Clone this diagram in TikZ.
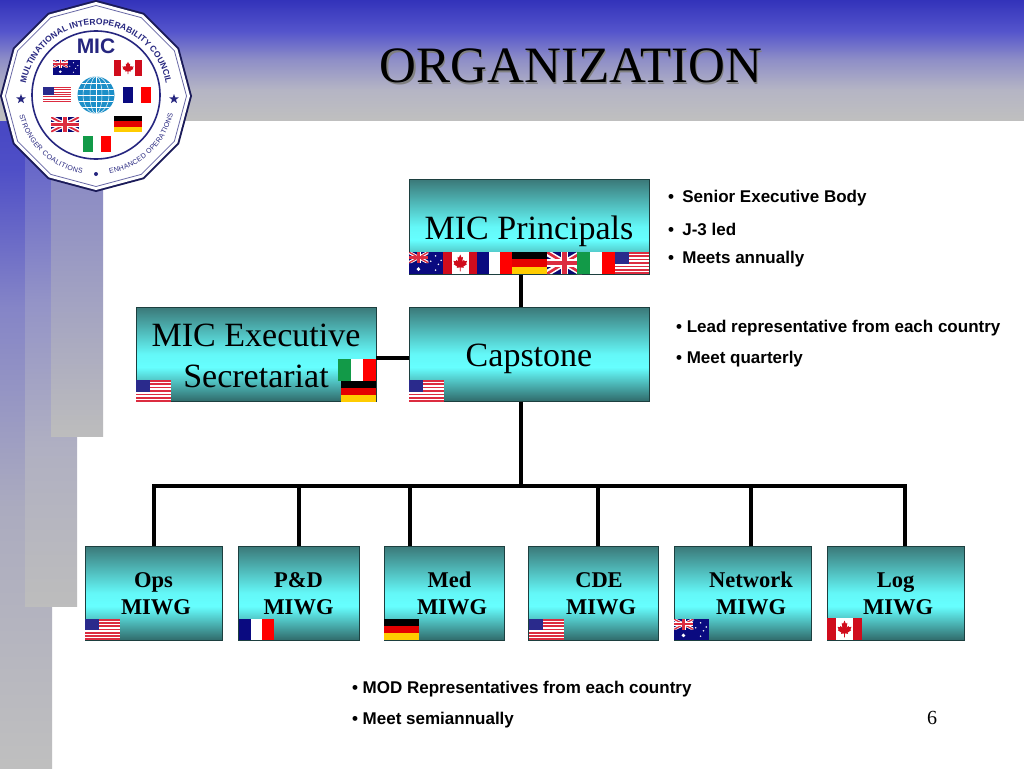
\documentclass[tikz,border=0pt]{standalone}
\usepackage{fontspec}
\setmainfont{Liberation Serif}
\setsansfont{Liberation Sans}
\usetikzlibrary{decorations.text,shapes.geometric}
\definecolor{navy}{HTML}{26267F}
\definecolor{boxedge}{HTML}{1C3F3F}
\definecolor{flagred}{HTML}{DC2C40}
\definecolor{flagblue}{HTML}{2A2A8C}
\definecolor{frblue}{HTML}{0A0A80}
\definecolor{itgreen}{HTML}{129A48}
\definecolor{degold}{HTML}{FFCC00}
\definecolor{cared}{HTML}{D00C1C}
\definecolor{globe}{HTML}{1C8FC8}
\pgfdeclareverticalshading{boxshade}{100bp}{
  rgb(0bp)=(.19,.42,.42);
  rgb(25bp)=(.19,.42,.42);
  rgb(43bp)=(.40,1,1);
  rgb(50bp)=(.39,.97,.97);
  rgb(75bp)=(.23,.47,.47);
  rgb(100bp)=(.23,.47,.47)}
\pgfdeclareverticalshading{topband}{100bp}{
  rgb(0bp)=(.75,.75,.75);
  rgb(25bp)=(.75,.75,.75);
  rgb(37.5bp)=(.71,.71,.77);
  rgb(50bp)=(.56,.56,.78);
  rgb(62bp)=(.33,.33,.80);
  rgb(75bp)=(.20,.20,.73);
  rgb(100bp)=(.20,.20,.73)}
\pgfdeclareverticalshading{bandone}{100bp}{
  rgb(0bp)=(.75,.75,.75);
  rgb(25bp)=(.75,.75,.75);
  rgb(42bp)=(.67,.67,.75);
  rgb(55bp)=(.52,.52,.78);
  rgb(64bp)=(.31,.31,.78);
  rgb(75bp)=(.20,.20,.73);
  rgb(100bp)=(.20,.20,.73)}
\pgfdeclareverticalshading{bandtwo}{100bp}{
  rgb(0bp)=(.74,.74,.74);
  rgb(25bp)=(.74,.74,.74);
  rgb(38bp)=(.69,.69,.76);
  rgb(50bp)=(.58,.58,.78);
  rgb(61bp)=(.41,.41,.79);
  rgb(75bp)=(.20,.20,.73);
  rgb(100bp)=(.20,.20,.73)}
\pgfdeclareverticalshading{bandthree}{100bp}{
  rgb(0bp)=(.74,.74,.74);
  rgb(25bp)=(.74,.74,.74);
  rgb(40bp)=(.64,.64,.76);
  rgb(55bp)=(.54,.54,.77);
  rgb(75bp)=(.25,.25,.74);
  rgb(100bp)=(.25,.25,.74)}
\tikzset{
  mbox/.style={draw=boxedge,line width=1pt,shading=boxshade,rectangle,inner sep=0pt,align=center,text=black},
  bigbox/.style={mbox,font=\fontsize{34}{41}\selectfont},
  miwg/.style={mbox,font=\fontsize{22.5}{27}\selectfont\bfseries,minimum height=94pt,text=black},
  link/.style={draw=black,line width=4pt},
  note/.style={anchor=west,inner sep=0pt,font=\sffamily\bfseries\fontsize{17}{17}\selectfont},
  arctext/.style={decorate},
}
% flag bodies drawn in a unit square, y downward
\newcommand{\ukbody}{
  \fill[frblue!90!black] (0,0) rectangle (1,1);
  \fill[white] (0,0)--(.14,0)--(1,.8)--(1,1)--(.86,1)--(0,.2)--cycle;
  \fill[white] (1,0)--(.86,0)--(0,.8)--(0,1)--(.14,1)--(1,.2)--cycle;
  \fill[flagred] (0,0)--(.06,0)--(1,.92)--(1,1)--(.94,1)--(0,.08)--cycle;
  \fill[flagred] (1,0)--(.94,0)--(0,.92)--(0,1)--(.06,1)--(1,.08)--cycle;
  \fill[white] (.39,0) rectangle (.61,1);
  \fill[white] (0,.32) rectangle (1,.68);
  \fill[flagred] (.44,0) rectangle (.56,1);
  \fill[flagred] (0,.40) rectangle (1,.60);
}
\newcommand{\flagUK}{\ukbody}
\newcommand{\flagAU}{
  \fill[frblue] (0,0) rectangle (1,1);
  \begin{scope}[xscale=.55,yscale=.5]\ukbody\end{scope}
  \fill[white] (.27,.78) ellipse [x radius=.055,y radius=.09];
  \foreach \sx/\sy in {.76/.18,.76/.82,.62/.42,.92/.38,.84/.56}{
    \fill[white] (\sx,\sy) ellipse [x radius=.025,y radius=.04];}
}
\newcommand{\flagCA}{
  \fill[white] (0,0) rectangle (1,1);
  \fill[cared] (0,0) rectangle (.25,1);
  \fill[cared] (.75,0) rectangle (1,1);
  \fill[cared] (.5,.12)--(.54,.26)--(.58,.22)--(.56,.44)--(.61,.36)--(.63,.42)--(.70,.40)--(.67,.52)--(.69,.56)--(.59,.66)--(.60,.72)--(.51,.70)--(.51,.88)--(.49,.88)--(.49,.70)--(.40,.72)--(.41,.66)--(.31,.56)--(.33,.52)--(.30,.40)--(.37,.42)--(.39,.36)--(.44,.44)--(.42,.22)--(.46,.26)--cycle;
}
\newcommand{\flagFR}{
  \fill[white] (0,0) rectangle (1,1);
  \fill[frblue] (0,0) rectangle (.34,1);
  \fill[red] (.66,0) rectangle (1,1);
}
\newcommand{\flagIT}{
  \fill[white] (0,0) rectangle (1,1);
  \fill[itgreen] (0,0) rectangle (.34,1);
  \fill[red] (.66,0) rectangle (1,1);
}
\newcommand{\flagDE}{
  \fill[black] (0,0) rectangle (1,.34);
  \fill[red!90!black] (0,.33) rectangle (1,.67);
  \fill[degold] (0,.66) rectangle (1,1);
}
\newcommand{\flagUS}{
  \fill[white] (0,0) rectangle (1,1);
  \foreach \k in {0,2,...,12}{\fill[flagred] (0,\k/13) rectangle (1,\k/13+1/13);}
  \fill[flagblue] (0,0) rectangle (.4,.54);
}
\newcommand{\putflag}[5]{\begin{scope}[shift={(#2,#3)},x=#4pt,y=-#5pt]\csname flag#1\endcsname\end{scope}}
\begin{document}
\begin{tikzpicture}[x=1pt,y=-1pt]
\useasboundingbox (0,0) rectangle (1024,768);
\fill[white] (0,0) rectangle (1024,768);
% background bands
\path[shading=bandone] (0,0) rectangle (52,768);
\path[shading=bandtwo] (25,0) rectangle (77,606);
\path[shading=bandthree] (51,0) rectangle (103,436);
\path[shading=topband] (0,0) rectangle (1024,120);
% title
\node[text=black!50,font=\fontsize{51}{51}\selectfont] (titleshadow) at (572.3,67.5) {ORGANIZATION};
\node[text=black,font=\fontsize{51}{51}\selectfont] (title) at (571,66) {ORGANIZATION};
% logo
\begin{scope}[shift={(96,96)},y=1pt]
  \fill[navy!70!black] (90:96) -- (60:96) -- (30:96) -- (0:96) -- (-30:96) -- (-60:96) -- (-90:96) -- (-120:96) -- (-150:96) -- (180:96) -- (150:96) -- (120:96) -- cycle;
  \fill[white] (90:94) -- (60:94) -- (30:94) -- (0:94) -- (-30:94) -- (-60:94) -- (-90:94) -- (-120:94) -- (-150:94) -- (180:94) -- (150:94) -- (120:94) -- cycle;
  \draw[navy!70,line width=.8pt] (90:90.5) -- (60:90.5) -- (30:90.5) -- (0:90.5) -- (-30:90.5) -- (-60:90.5) -- (-90:90.5) -- (-120:90.5) -- (-150:90.5) -- (180:90.5) -- (150:90.5) -- (120:90.5) -- cycle;
  \draw[navy,line width=1.6pt] (0,1) circle [radius=64];
  \path[arctext,decoration={text along path,text align={fit to path},
    text={|\sffamily\bfseries\fontsize{8.5}{8.5}\selectfont\color{navy}|MULTINATIONAL INTEROPERABILITY COUNCIL}}]
    (170:71) arc [start angle=170,end angle=10,radius=71];
  \path[arctext,decoration={text along path,text align={fit to path},
    text={|\sffamily\fontsize{7}{7}\selectfont\color{navy}|STRONGER COALITIONS}}]
    (194:79) arc [start angle=194,end angle=260,radius=79];
  \path[arctext,decoration={text along path,text align={fit to path},
    text={|\sffamily\fontsize{7}{7}\selectfont\color{navy}|ENHANCED OPERATIONS}}]
    (280:79) arc [start angle=280,end angle=347,radius=79];
  \node[star,star points=5,star point ratio=2.4,fill=navy,inner sep=0pt,minimum size=10pt] (starleft) at (-75,-3) {};
  \node[star,star points=5,star point ratio=2.4,fill=navy,inner sep=0pt,minimum size=10pt] (starright) at (78,-3) {};
  \fill[navy] (0,-78) circle [radius=2];
  \node[text=navy,font=\sffamily\bfseries\fontsize{21}{21}\selectfont] (mic) at (0,50) {MIC};
  % globe
  \fill[globe] (0,1) circle [radius=18.5];
  \begin{scope}
    \clip (0,1) circle [radius=18.5];
    \draw[white,line width=.5pt] (0,-18) -- (0,20);
    \draw[white,line width=.5pt] (0,1) ellipse [x radius=6,y radius=18.5];
    \draw[white,line width=.5pt] (0,1) ellipse [x radius=13,y radius=18.5];
    \foreach \gy in {-11,-5,1,7,13}{\draw[white,line width=.5pt] (-19,\gy) -- (19,\gy);}
  \end{scope}
\end{scope}
\putflag{AU}{53}{60}{27}{15}
\putflag{CA}{114}{60}{28}{16}
\putflag{US}{43}{87}{28}{15}
\putflag{FR}{123}{87}{28}{16}
\putflag{UK}{51}{117}{28}{15}
\putflag{DE}{114}{116}{28}{16}
\putflag{IT}{83}{136}{28}{16}
% boxes
\node[bigbox,minimum width=240pt,minimum height=95pt] (principals) at (529,226.5) {\rule{0pt}{33pt}MIC Principals};
\node[bigbox,minimum width=240pt,minimum height=94pt] (capstone) at (529,354) {\rule{0pt}{33pt}Capstone};
\node[bigbox,minimum width=240pt,minimum height=94pt] (exec) at (256,354) {\rule{0pt}{25.5pt}MIC Executive\\Secretariat};
\node[miwg,minimum width=137pt] (ops) at (153.5,593) {\rule{0pt}{17pt}Ops\\\hspace*{5pt}MIWG};
\node[miwg,minimum width=121pt] (pd) at (298.5,593) {\rule{0pt}{17pt}P\&D\\MIWG};
\node[miwg,minimum width=120pt] (med) at (444,593) {\rule{0pt}{17pt}\hspace*{11pt}Med\\\hspace*{16pt}MIWG};
\node[miwg,minimum width=130pt] (cde) at (593,593) {\rule{0pt}{17pt}\hspace*{12pt}CDE\\\hspace*{16pt}MIWG};
\node[miwg,minimum width=137pt] (network) at (742.5,593) {\rule{0pt}{17pt}\hspace*{17pt}Network\\\hspace*{17pt}MIWG};
\node[miwg,minimum width=137pt] (log) at (895.5,593) {\rule{0pt}{17pt}Log\\\hspace*{5pt}MIWG};
% flags on boxes
\putflag{AU}{409}{252}{35}{22}
\putflag{CA}{443}{252}{34.5}{22}
\putflag{FR}{477}{252}{35}{22}
\putflag{DE}{512}{252}{35}{22}
\putflag{UK}{547}{252}{35}{22}
\putflag{IT}{577}{252}{38}{22}
\putflag{US}{615}{252}{34}{22}
\putflag{US}{409}{380}{35}{22}
\putflag{US}{136}{380}{35}{22}
\putflag{IT}{338}{359}{38}{22}
\putflag{DE}{341}{381}{35}{21}
\putflag{US}{85}{619}{35}{21}
\putflag{FR}{239}{619}{35}{21}
\putflag{DE}{384}{619}{35}{21}
\putflag{US}{529}{619}{35}{21}
\putflag{AU}{674}{619}{35}{21}
\putflag{CA}{827}{618}{35}{22}
% connectors
\coordinate (trunk) at (521,486);
\coordinate (barleft) at (152,486);
\coordinate (barright) at (907,486);
\coordinate (execjoin) at (376,358);
\coordinate (dropa) at (154,486);
\coordinate (dropb) at (299,486);
\coordinate (dropc) at (410,486);
\coordinate (dropd) at (598,486);
\coordinate (drope) at (751,486);
\coordinate (dropf) at (905,486);
\draw[link] (trunk |- principals.south) -- (trunk |- capstone.north);
\draw[link] (execjoin) -- (execjoin -| capstone.west);
\draw[link] (trunk |- capstone.south) -- (trunk);
\draw[link] (barleft) -- (barright);
\draw[link] (dropa) -- (dropa |- ops.north);
\draw[link] (dropb) -- (dropb |- pd.north);
\draw[link] (dropc) -- (dropc |- med.north);
\draw[link] (dropd) -- (dropd |- cde.north);
\draw[link] (drope) -- (drope |- network.north);
\draw[link] (dropf) -- (dropf |- log.north);
% notes
\node[note] (noteA) at (668,198.5) {•\hspace{8.2pt}Senior Executive Body};
\node[note] (noteB) at (668,229) {•\hspace{8.2pt}J-3 led};
\node[note] (noteC) at (668,259.5) {•\hspace{8.2pt}Meets annually};
\node[note] (noteD) at (676,328.5) {•\hspace{4.6pt}Lead representative from each country};
\node[note] (noteE) at (676,359.5) {•\hspace{4.6pt}Meet quarterly};
\node[note] (noteF) at (352,689.5) {•\hspace{4.6pt}MOD Representatives from each country};
\node[note] (noteG) at (352,720.5) {•\hspace{4.6pt}Meet semiannually};
\node[font=\fontsize{20}{20}\selectfont] (pagenum) at (932,718) {6};
\end{tikzpicture}
\end{document}
